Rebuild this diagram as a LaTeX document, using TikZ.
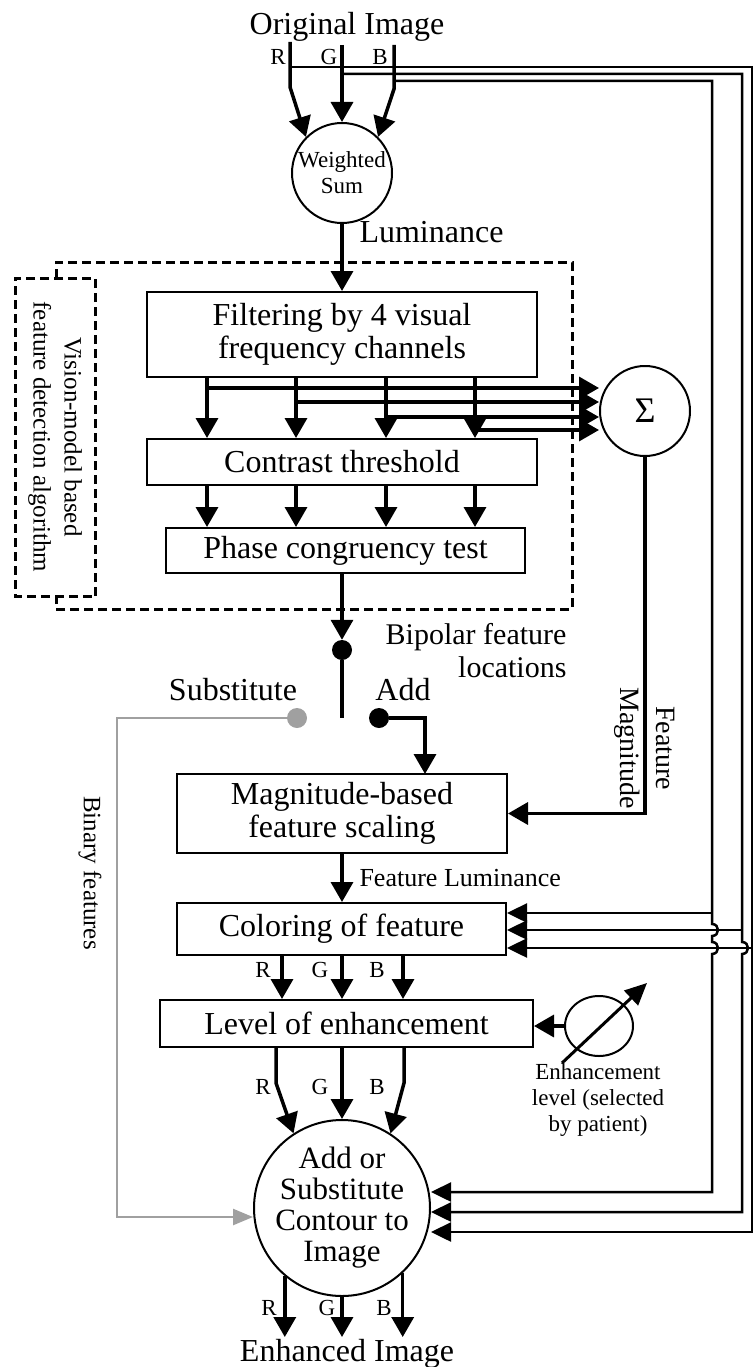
\documentclass[tikz,border=0pt]{standalone}
\usepackage{fontspec}
\setmainfont{Liberation Serif}
\usetikzlibrary{arrows.meta,shapes.geometric,calc}
\definecolor{swgray}{RGB}{160,160,160}
\newcommand{\bigf}{\fontsize{32pt}{33pt}\selectfont}
\newcommand{\bipf}{\fontsize{30pt}{33pt}\selectfont}
\newcommand{\fmf}{\fontsize{28pt}{36pt}\selectfont}
\newcommand{\midf}{\fontsize{26pt}{30pt}\selectfont}
\newcommand{\visf}{\fontsize{25pt}{31pt}\selectfont}
\newcommand{\smf}{\fontsize{23pt}{26pt}\selectfont}

\begin{document}
\begin{tikzpicture}[x=1pt,y=-1pt,font=\bigf,
		box/.style={draw,line width=2pt,inner sep=0pt,align=center},
		rnd/.style={draw,circle,line width=2pt,inner sep=0pt,align=center},
		jdot/.style={circle,fill,inner sep=0pt,minimum size=20pt},
		arr/.style={line width=3.5pt,-{Triangle[length=20pt,width=22pt]}},
		bus/.style={line width=2.5pt,-{Triangle[length=20pt,width=19pt]}},
		gry/.style={swgray,line width=2.5pt,-{Triangle[length=20pt,width=16pt]}},
		dsh/.style={line width=3pt,dash pattern=on 9pt off 5pt},
		lbl/.style={font=\smf,inner sep=0pt}]
	\useasboundingbox (0,0) rectangle (755,1367);

	\node (orig) at (347,27) {Original Image};
	\node[lbl] (tr) at (278,57) {R};
	\node[lbl] (tg) at (329,57) {G};
	\node[lbl] (tb) at (380,57) {B};
	\node[rnd,minimum size=100pt,font=\smf] (ws) at (342,173) {Weighted\\Sum};
	\node[anchor=west] (lum) at (356,232) {Luminance};

	\node[box,minimum width=390pt,minimum height=85pt] (filt) at (342,334.5) {Filtering by 4 visual\\frequency channels};
	\node[box,minimum width=390pt,minimum height=46pt] (thr) at (342,462) {Contrast threshold};
	\node[box,minimum width=359pt,minimum height=45pt] (phase) at (345.5,550.5) {Phase congruency test};
	\node[rnd,minimum size=90pt,font=\fontsize{36pt}{36pt}\selectfont] (sig) at (645,411) {Σ};
	\node[draw,dsh,rotate=-90,minimum width=318pt,minimum height=80pt,inner sep=0pt,align=center,font=\visf] (vis) at (55,437) {Vision-model based\\feature detection algorithm};
	\draw[dsh] (56,278) -- (56,262) -- (572,262) -- (572,609) -- (56,609) -- (56,596);

	\node[jdot] (pdot) at (342,650) {};
	\node[anchor=east,align=right,font=\bipf] (bip) at (570,651) {Bipolar feature\\locations};
	\node (sub) at (233,690) {Substitute};
	\node (addl) at (403,690) {Add};
	\node[jdot,swgray] (gdot) at (297,718) {};
	\node[jdot] (adot) at (379,718) {};
	\coordinate (swend) at (342,718);

	\node[box,minimum width=330pt,minimum height=79pt] (mag) at (342,813.5) {Magnitude-based\\feature scaling};
	\node[rotate=-90,align=center,font=\fmf] (fmag) at (645,748) {Feature\\Magnitude};
	\node[anchor=west,font=\midf] (flum) at (356,878) {Feature Luminance};
	\node[box,minimum width=329pt,minimum height=52pt] (col) at (341.5,929) {Coloring of feature};
	\node[lbl] (cr) at (263,970) {R};
	\node[lbl] (cg) at (320,970) {G};
	\node[lbl] (cb) at (377,970) {B};
	\node[box,minimum width=373pt,minimum height=47pt] (lev) at (346.5,1023.5) {Level of enhancement};
	\node[draw,ellipse,line width=2pt,minimum width=68pt,minimum height=60pt,inner sep=0pt] (dial) at (599,1026) {};
	\node[align=center,font=\smf] (enl) at (598,1100) {Enhancement\\level (selected\\by patient)};
	\node[lbl] (lr) at (263,1087) {R};
	\node[lbl] (lg) at (320,1087) {G};
	\node[lbl] (lb) at (377,1087) {B};
	\node[rotate=-90,font=\visf] (binf) at (90,873) {Binary features};

	\node[rnd,minimum size=176pt,inner sep=-3pt,font=\fontsize{31pt}{31pt}\selectfont] (add) at (342,1208) {Add or\\Substitute\\Contour to\\Image};
	\node[lbl] (orr) at (269,1308) {R};
	\node[lbl] (org) at (327,1308) {G};
	\node[lbl] (orb) at (384,1308) {B};
	\node (enh) at (347,1354) {Enhanced Image};

	\coordinate (rtop) at (290,42);
	\coordinate (rbend) at (290,87);
	\coordinate (gtop) at (342,45);
	\coordinate (btop) at (394,45);
	\coordinate (bbend) at (394,89);
	\draw[arr] (rtop) -- (rbend) -- (ws.135);
	\draw[arr] (gtop) -- (ws.north);
	\draw[arr] (btop) -- (bbend) -- (ws.45);
	\draw[arr] (ws.south) -- (filt.north);

	\foreach \x [count=\i] in {207,296,386,475} {
		\coordinate (ch\i) at (\x,0);
	}
	\coordinate (tp1) at (207,388);
	\coordinate (tp2) at (296,402);
	\coordinate (tp3) at (386,417);
	\coordinate (tp4) at (475,430);
	\foreach \i in {1,...,4} {
		\draw[arr] (filt.south -| ch\i) -- (thr.north -| ch\i);
		\draw[arr] (thr.south -| ch\i) -- (phase.north -| ch\i);
		\draw[arr] (tp\i) -- (sig.west |- tp\i);
	}

	\draw[arr] (phase.south -| pdot) -- (pdot.north);
	\draw[line width=3.5pt] (pdot) -- (swend);
	\coordinate (gcor) at (117,1217);
	\draw[gry] (gdot) -| (gcor) -- (add.west |- gcor);
	\coordinate (magin) at (425,774);
	\draw[arr] (adot) -| (magin);
	\draw[arr] (sig.south) |- (mag.east);
	\draw[arr] (mag.south) -- (col.north -| mag.south);

	\coordinate (rtap) at (290,67);
	\coordinate (gtap) at (342,74);
	\coordinate (btap) at (394,81);
	\coordinate (rcol) at (752,948);
	\coordinate (gcol) at (742,930);
	\coordinate (bcol) at (712,913);
	\coordinate (hop1) at (712,930);
	\coordinate (hop2) at (712,948);
	\coordinate (hop3) at (742,948);
	\coordinate (rout) at (752,1232);
	\coordinate (gout) at (742,1212);
	\coordinate (bout) at (712,1192);
	\draw[bus] (rtap) -| (rout) -- (add.east |- rout);
	\draw[bus] (gtap) -| ($(hop3)+(0,-6)$) .. controls +(8,0) and +(8,0) .. ($(hop3)+(0,6)$) -- (gout) -- (add.east |- gout);
	\draw[bus] (btap) -| ($(hop1)+(0,-6)$) .. controls +(8,0) and +(8,0) .. ($(hop1)+(0,6)$) -- ($(hop2)+(0,-6)$) .. controls +(8,0) and +(8,0) .. ($(hop2)+(0,6)$) -- (bout) -- (add.east |- bout);
	\draw[bus] (rcol) -- (col.east |- rcol);
	\draw[bus] (gcol) -- (col.east |- gcol);
	\draw[bus] (bcol) -- (col.east |- bcol);

	\foreach \x in {282,342,403} {
		\coordinate (k) at (\x,0);
		\draw[arr] (col.south -| k) -- (lev.north -| k);
	}
	\draw[arr] (dial.west) -- (lev.east |- dial.west);
	\coordinate (dlo) at (562,1063);
	\coordinate (dhi) at (647,983);
	\draw[line width=3pt,-{Triangle[length=22pt,width=20pt]}] (dlo) -- (dhi);

	\coordinate (lrb) at (276,1083);
	\coordinate (lbb) at (404,1083);
	\draw[arr] (lev.south -| lrb) -- (lrb) -- (add.123);
	\draw[arr] (add.north |- lev.south) -- (add.north);
	\draw[arr] (lev.south -| lbb) -- (lbb) -- (add.57);

	\coordinate (oend) at (0,1337);
	\draw[arr] (add.230) -- (add.230 |- oend);
	\draw[arr] (add.south) -- (add.south |- oend);
	\draw[arr] (add.313) -- (add.313 |- oend);
\end{tikzpicture}
\end{document}
